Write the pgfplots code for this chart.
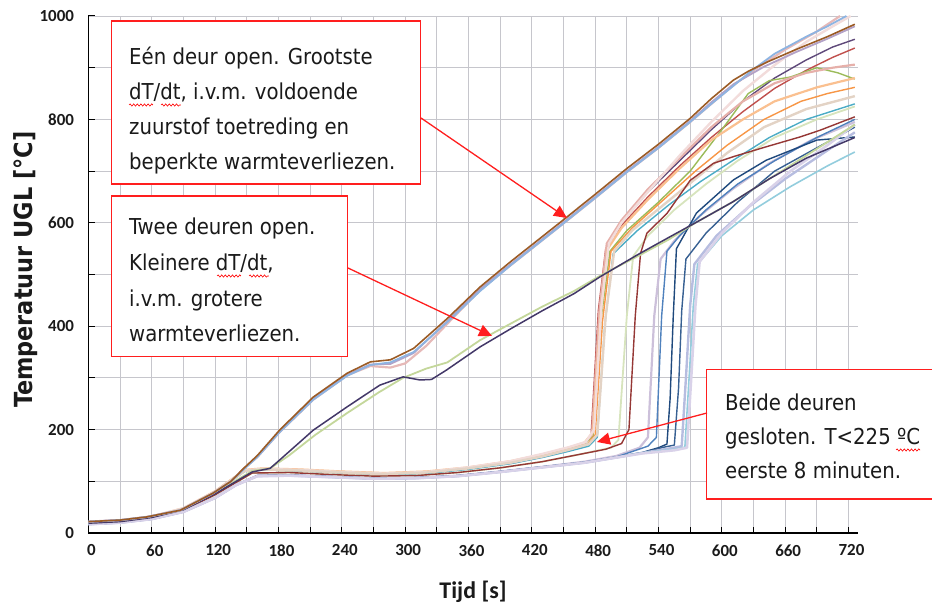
\documentclass[border=0pt]{standalone}
\usepackage{fontspec}
\usepackage{pgfplots}
\pgfplotsset{compat=1.18}
\usetikzlibrary{arrows.meta,decorations.pathmorphing}
\newfontfamily\annot{DejaVu Sans Condensed}
\newfontfamily\carl{Carlito}

\definecolor{gridc}{HTML}{C6C6CC}
\definecolor{boxred}{HTML}{FF1E1E}
\definecolor{txt}{HTML}{1A1A1A}
\definecolor{brownc}{HTML}{9B5B25}
\definecolor{lblue}{HTML}{8DB4E2}
\definecolor{opink}{HTML}{E6B9B8}
\definecolor{olav}{HTML}{B3A2C7}
\definecolor{tdpurple}{HTML}{433868}
\definecolor{tgreen}{HTML}{C4D79B}
\definecolor{dpurple}{HTML}{5F497A}
\definecolor{redc}{HTML}{C0504D}
\definecolor{greenc}{HTML}{9BBB59}
\definecolor{orangec}{HTML}{F79646}
\definecolor{tealc}{HTML}{4BACC6}
\definecolor{salmon}{HTML}{E6B0AA}
\definecolor{peach}{HTML}{FAC090}
\definecolor{ppink}{HTML}{F2DCDB}
\definecolor{beige}{HTML}{E3D3C5}
\definecolor{lgreen}{HTML}{D7E4BD}
\definecolor{dred}{HTML}{953735}
\definecolor{lav}{HTML}{CCC0DA}
\definecolor{bluec}{HTML}{4F81BD}
\definecolor{navy}{HTML}{1F497D}
\definecolor{steel}{HTML}{376092}
\definecolor{peri}{HTML}{B7BDE0}
\definecolor{cyanc}{HTML}{93CDDD}
\definecolor{plav}{HTML}{D9D2E9}

\begin{document}
\begin{tikzpicture}
\path[use as bounding box] (-88.5bp,-77bp) rectangle (843.5bp,533bp);
\begin{axis}[
    scale only axis,
    width=769.5bp, height=517bp,
    xmin=0, xmax=729, ymin=0, ymax=1000,
    axis x line=bottom, axis y line=left,
    axis line style={-, line width=1.3bp, black},
    xtick={0,60,...,720}, minor xtick={30,90,...,690},
    ytick={0,200,...,1000}, minor ytick={100,300,...,900},
    grid=both,
    major grid style={gridc, line width=0.9bp},
    minor grid style={gridc, line width=0.9bp},
    tick align=inside,
    major tick length=6bp, minor tick length=6bp,
    tick style={black, line width=1bp},
    /pgf/number format/assume math mode=true,
    /pgf/number format/1000 sep={},
    tick label style={font=\carl\bfseries\fontsize{17}{17}\selectfont, text=txt},
    xticklabel style={xshift=3bp, yshift=-8bp},
    yticklabel style={xshift=-11bp},
    xlabel={Tijd [s]},
    xlabel style={font=\carl\bfseries\fontsize{24}{24}\selectfont, text=txt,
        at={(axis description cs:0.4997,-0.114)}, anchor=center},
    ylabel={Temperatuur UGL [°C]},
    ylabel style={font=\annot\bfseries\fontsize{25}{25}\selectfont, text=txt,
        at={(axis description cs:-0.0819,0.509)}, anchor=center},
    every axis plot/.append style={no markers, line join=round},
]
% gesloten: vroege sprong, felle kleuren
\addplot[dpurple, line width=1.4bp] coordinates {(0,20)(30,23)(60,31)(90,47)(120,79)(135,101)(148,120)(165,123)(200,121)(240,117)(280,114)(320,117)(360,125)(400,137)(430,150)(455,163)(470,172)(478,190)(485,420)(492,555)(505,600)(530,660)(560,720)(590,780)(620,835)(650,880)(680,915)(705,940)(726,955)};
\addplot[redc, line width=1.4bp] coordinates {(0,20)(30,23)(60,31)(90,47)(120,80)(135,102)(148,121)(165,124)(200,122)(240,118)(280,115)(320,118)(360,126)(400,138)(430,150)(455,162)(468,170)(476,185)(483,430)(490,550)(505,595)(530,650)(560,710)(590,765)(620,815)(650,860)(680,895)(705,920)(726,938)};
\addplot[greenc, line width=1.4bp] coordinates {(0,20)(30,23)(60,31)(90,47)(120,79)(135,101)(148,120)(165,123)(200,121)(240,117)(280,114)(320,117)(360,125)(400,136)(430,149)(455,162)(470,172)(478,188)(486,420)(494,545)(510,585)(540,640)(570,700)(600,780)(625,850)(645,875)(665,882)(690,900)(710,890)(726,878)};
\addplot[orangec, line width=1.4bp] coordinates {(0,20)(30,23)(60,31)(90,47)(120,79)(135,101)(148,120)(165,122)(200,120)(240,116)(280,113)(320,116)(360,124)(400,135)(430,147)(455,160)(472,170)(480,190)(487,410)(495,545)(515,590)(545,645)(575,700)(605,750)(640,800)(675,835)(700,850)(726,862)};
\addplot[tealc, line width=1.4bp] coordinates {(0,19)(30,22)(60,30)(90,46)(120,78)(135,100)(148,119)(165,122)(200,120)(240,116)(280,113)(320,115)(360,123)(400,134)(430,146)(455,158)(474,168)(482,185)(489,400)(497,540)(520,585)(550,635)(580,680)(610,720)(645,765)(680,800)(726,830)};
% gesloten: vroege sprong, pastel
\addplot[salmon, line width=2.2bp] coordinates {(0,20)(30,23)(60,31)(90,47)(120,80)(135,102)(148,121)(165,124)(200,122)(240,118)(280,115)(320,118)(360,126)(400,138)(430,151)(455,164)(469,172)(477,190)(484,430)(491,560)(505,605)(530,665)(560,725)(590,785)(620,835)(650,870)(680,890)(705,900)(726,906)};
\addplot[peach, line width=2.2bp] coordinates {(0,21)(30,24)(60,32)(90,48)(120,81)(135,103)(148,122)(165,125)(200,123)(240,119)(280,116)(320,119)(360,127)(400,139)(430,152)(455,165)(470,175)(478,195)(485,420)(492,550)(505,590)(530,645)(560,705)(590,760)(620,800)(650,835)(690,862)(726,880)};
\addplot[ppink, line width=2.4bp] coordinates {(0,21)(30,24)(60,32)(90,48)(120,80)(135,102)(148,121)(165,124)(200,122)(240,118)(280,115)(320,118)(360,127)(400,139)(430,153)(455,166)(471,176)(479,200)(486,440)(493,560)(505,600)(530,660)(560,730)(590,795)(620,855)(650,905)(680,950)(705,980)(722,1000)};
\addplot[beige, line width=2.4bp] coordinates {(0,20)(30,23)(60,31)(90,47)(120,79)(135,101)(148,120)(165,123)(200,121)(240,117)(280,114)(320,117)(360,125)(400,136)(430,148)(455,161)(474,172)(482,190)(490,420)(498,545)(515,585)(545,635)(575,685)(605,735)(640,785)(680,820)(726,845)};
% gesloten: middelste sprong
\addplot[lgreen, line width=1.8bp] coordinates {(0,19)(30,22)(60,29)(90,44)(120,74)(140,98)(155,116)(190,117)(230,113)(270,110)(310,111)(350,117)(390,126)(430,138)(465,152)(495,165)(502,180)(510,420)(516,535)(530,575)(555,625)(585,675)(615,720)(650,765)(690,800)(726,825)};
\addplot[dred, line width=1.4bp] coordinates {(0,19)(30,22)(60,29)(90,44)(120,74)(140,98)(155,116)(190,117)(230,113)(270,110)(310,111)(350,117)(390,126)(430,138)(465,152)(490,162)(505,173)(512,200)(518,420)(523,541)(529,580)(548,618)(570,682)(592,715)(611,728)(642,747)(674,766)(693,779)(726,805)};
% gesloten: late sprong
\addplot[lav, line width=2.2bp] coordinates {(0,17)(30,20)(60,27)(90,41)(120,68)(140,93)(160,111)(190,112)(230,109)(270,106)(310,107)(350,111)(390,119)(430,128)(470,138)(500,149)(522,165)(530,185)(536,420)(542,530)(555,565)(580,615)(610,665)(645,715)(685,760)(726,795)};
\addplot[bluec, line width=1.4bp] coordinates {(0,17)(30,20)(60,27)(90,41)(120,68)(140,93)(160,111)(190,112)(230,109)(270,106)(310,107)(350,111)(390,119)(430,128)(470,137)(500,147)(530,168)(538,185)(543,420)(548,545)(560,575)(585,625)(615,675)(650,720)(690,765)(726,800)};
\addplot[navy, line width=1.4bp] coordinates {(0,17)(30,20)(60,27)(90,41)(120,68)(140,93)(160,111)(190,112)(230,109)(270,106)(310,107)(350,111)(390,119)(430,128)(470,137)(500,147)(525,156)(540,165)(548,172)(551,260)(554,420)(557,550)(576,619)(611,683)(642,721)(690,760)(726,766)};
\addplot[steel, line width=1.4bp] coordinates {(0,17)(30,20)(60,27)(90,41)(120,68)(140,93)(160,110)(190,111)(230,108)(270,105)(310,106)(350,110)(390,118)(430,127)(470,136)(500,146)(525,155)(545,166)(555,170)(559,280)(562,430)(566,530)(585,580)(615,640)(650,700)(690,745)(726,785)};
\addplot[peri, line width=2.4bp] coordinates {(0,17)(30,20)(60,27)(90,41)(120,68)(140,93)(160,110)(190,111)(230,108)(270,105)(310,106)(350,110)(390,118)(430,127)(470,136)(500,146)(525,155)(552,164)(562,168)(566,300)(570,440)(574,520)(595,575)(625,630)(660,685)(700,740)(726,775)};
\addplot[cyanc, line width=1.6bp] coordinates {(0,17)(30,20)(60,27)(90,41)(120,68)(140,93)(160,110)(190,111)(230,108)(270,105)(310,106)(350,110)(390,118)(430,127)(470,136)(500,146)(525,155)(555,162)(565,166)(569,300)(573,440)(577,520)(600,575)(630,625)(665,670)(700,710)(726,737)};
\addplot[plav, line width=2.6bp] coordinates {(0,17)(30,20)(60,27)(90,41)(120,68)(140,93)(160,110)(190,111)(230,108)(270,105)(310,106)(350,110)(390,118)(430,127)(470,136)(500,146)(525,154)(555,160)(567,165)(571,300)(575,440)(579,525)(600,580)(630,640)(665,700)(700,750)(726,790)};
% twee deuren open
\addplot[tgreen, line width=1.8bp] coordinates {(0,20)(30,23)(60,31)(90,46)(120,78)(140,102)(155,120)(172,125)(190,150)(215,190)(245,232)(275,272)(298,300)(320,318)(340,330)(371,373)(400,405)(430,438)(460,468)(485,498)(520,535)(550,568)(575,600)(610,640)(645,685)(680,730)(726,790)};
\addplot[tdpurple, line width=1.5bp] coordinates {(0,19)(30,22)(60,30)(90,45)(120,76)(140,100)(155,118)(172,125)(181,141)(213,199)(245,244)(276,286)(298,302)(314,296)(325,297)(339,315)(371,360)(400,395)(430,430)(460,463)(485,496)(520,538)(550,572)(575,600)(610,640)(645,685)(680,725)(726,765)};
% een deur open
\addplot[opink, line width=2.2bp] coordinates {(0,22)(30,25)(55,31)(87,44)(118,77)(135,100)(147,124)(160,147)(181,195)(213,258)(245,305)(267,323)(286,320)(300,328)(320,362)(340,405)(371,470)(400,518)(447,594)(480,648)(510,698)(540,745)(570,795)(590,830)(611,866)(630,895)(660,935)(690,970)(712,1000)};
\addplot[olav, line width=1.8bp] coordinates {(0,22)(30,25)(55,31)(87,44)(118,77)(135,100)(147,124)(160,148)(181,196)(213,260)(245,306)(267,326)(286,327)(308,348)(340,410)(371,472)(400,520)(447,596)(480,650)(510,700)(540,747)(570,797)(590,833)(611,868)(640,902)(670,930)(700,956)(726,980)};
\addplot[lblue, line width=1.8bp] coordinates {(0,22)(30,25)(55,31)(87,44)(118,77)(135,100)(147,123)(160,147)(181,195)(213,258)(245,304)(267,325)(286,330)(308,350)(340,408)(371,468)(400,518)(447,594)(480,648)(510,698)(540,745)(570,795)(590,830)(611,865)(630,897)(650,927)(680,960)(700,980)(718,1000)};
\addplot[brownc, line width=1.6bp] coordinates {(0,22)(30,25)(55,31)(87,44)(118,77)(135,100)(147,125)(160,150)(181,199)(213,263)(245,309)(267,331)(286,335)(308,357)(340,415)(371,476)(400,525)(447,601)(480,655)(510,705)(540,752)(570,802)(590,840)(611,876)(625,893)(643,911)(670,935)(700,960)(726,984)};
\end{axis}

\begin{scope}[shift={(-88.5bp,533bp)}, x=1bp, y=-1bp]
\tikzset{lbl/.style={anchor=base west, inner sep=0pt, text=txt, font=\annot\fontsize{22}{22}\selectfont},
         arr/.style={boxred, line width=1.3bp, -{Triangle[length=13bp,width=12bp]}},
         wavy/.style={red, line width=0.6bp, decorate, decoration={snake, amplitude=1.1bp, segment length=3.6bp}}}
% kader 1
\draw[boxred, line width=1.4bp, fill=white] (111.7,21) rectangle (420.7,184);
\node[lbl] at (129,65) {Eén deur open. Grootste};
\node[lbl] at (129,100) {dT/dt, i.v.m. voldoende};
\node[lbl] at (129,135) {zuurstof toetreding en};
\node[lbl] at (129,170) {beperkte warmteverliezen.};
\draw[wavy] (129,105) -- (153,105);
\draw[wavy] (161,105) -- (181,105);
\draw[arr] (421,118) -- (567,218);
% kader 2
\draw[boxred, line width=1.4bp, fill=white] (111.7,196) rectangle (347.7,356.7);
\node[lbl] at (129,235) {Twee deuren open.};
\node[lbl] at (129,271) {Kleinere dT/dt,};
\node[lbl] at (129,306.5) {i.v.m. grotere};
\node[lbl] at (129,342) {warmteverliezen.};
\draw[wavy] (217,276) -- (241,276);
\draw[wavy] (249,276) -- (269,276);
\draw[arr] (348,268) -- (492,336);
% kader 3
\draw[boxred, line width=1.4bp, fill=white] (706.7,369.3) rectangle (945,499);
\node[lbl] at (725,411) {Beide deuren};
\node[lbl] at (725,445) {gesloten. T<225 ºC};
\node[lbl] at (725,479) {eerste 8 minuten.};
\draw[wavy] (896,450) -- (920,450);
\draw[arr] (707,413) -- (597,442);
\end{scope}
\end{tikzpicture}
\end{document}
